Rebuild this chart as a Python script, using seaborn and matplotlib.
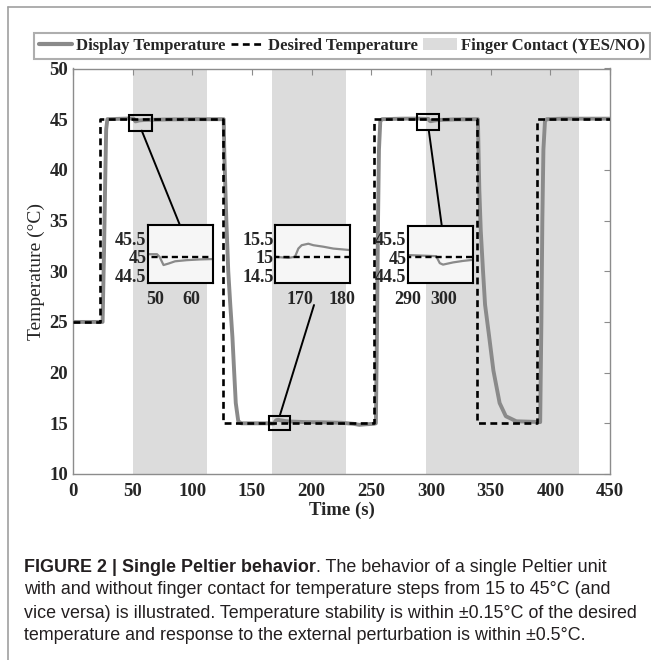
import matplotlib
matplotlib.use('Agg')
import matplotlib.pyplot as plt
import seaborn as sns
import pandas as pd
from matplotlib.patches import Rectangle, ConnectionPatch, Patch
from matplotlib.lines import Line2D

# ---------------- data ----------------
contact_start = [50, 167, 296]
contact_end = [112, 229, 424]

desired_t = [0, 23, 125.5, 252, 338.5, 389, 450]
desired_T = [25, 45, 15, 45, 15, 45, 45]

display_t = [0, 24.8, 26.0, 27.0, 27.8, 28.8, 48, 50.5, 51.2, 52.3, 53.7, 55.5, 58.7,
             62.4, 66, 80, 100, 115, 126.3, 126.8, 128.5, 130.1, 131.8, 133.6, 135.0,
             136.4, 138.5, 141, 150, 164, 167.2, 168.8, 169.6, 170.4, 172, 173.2, 175.6,
             178, 182, 195, 210, 225, 235, 240, 245, 252, 253.8, 254.8, 255.6, 256.4,
             257.5, 259, 275, 290, 297.8, 298.8, 299.7, 302.5, 305.2, 308, 320, 339.3,
             339.8, 340.5, 341.7, 343.6, 345.3, 348.8, 352.3, 357.5, 362.7, 371.5, 385,
             391.5, 392.5, 393.3, 394.2, 395.5, 397, 410, 430, 450]
display_T = [25, 25, 32, 39, 44, 45, 45.07, 45.07, 45.0, 44.78, 44.82, 44.88, 44.91,
             44.93, 44.94, 44.98, 45.0, 45.0, 45.0, 41.6, 35, 30, 26.7, 23.5, 20.2,
             17, 15.2, 15.0, 15.0, 15.0, 14.97, 15.0, 15.22, 15.31, 15.35, 15.31, 15.27,
             15.22, 15.18, 15.12, 15.1, 15.05, 14.95, 14.85, 14.9, 14.95, 15.0, 25, 35, 42,
             44.8, 45, 45.05, 45.06, 45.03, 44.84, 44.8, 44.86, 44.9, 44.93, 44.98, 45,
             42, 38, 34, 30, 26.7, 23.5, 20.2, 17, 15.7, 15.2, 15.15,
             15.12, 25, 35, 42, 44.8, 45, 45.05, 45.05, 45.05]

x_ticks = [0, 50, 100, 150, 200, 250, 300, 350, 400, 450]
y_ticks = [10, 15, 20, 25, 30, 35, 40, 45, 50]

inset_xlims = [(48, 66), (164, 182), (290, 308)]
inset_ylims = [(44.3, 45.85), (14.3, 15.85), (44.3, 45.85)]
inset_xticks = [[50, 60], [170, 180], [290, 300]]
inset_yticks = [[44.5, 45, 45.5], [14.5, 15, 15.5], [44.5, 45, 45.5]]
inset_yticklabels = [['44.5', '45', '45.5'], ['14.5', '15', '15.5'], ['44.5', '45', '45.5']]
# zoom rectangles on the main chart: (t0, T0, width_s, height_C)
zoom_boxes = [(47.2, 43.87, 19.0, 1.52), (164.1, 14.32, 18.1, 1.44), (288.6, 43.94, 18.4, 1.55)]

legend_labels = ['Display Temperature', 'Desired Temperature', 'Finger Contact (YES/NO)']

caption_bold = 'FIGURE 2 | Single Peltier behavior'
caption_lines = ['. The behavior of a single Peltier unit',
                 'with and without finger contact for temperature steps from 15 to 45\u00b0C (and',
                 'vice versa) is illustrated. Temperature stability is within \u00b10.15\u00b0C of the desired',
                 'temperature and response to the external perturbation is within \u00b10.5\u00b0C.']

# ---------------- style ----------------
sns.set_style('white')
plt.rcParams['font.family'] = ['Liberation Serif', 'DejaVu Serif']
plt.rcParams['font.weight'] = 'bold'

GRAY = '#8a8a8a'
SHADE = '#dcdcdc'
SPINE = '#8c8c8c'
DASH = (2.6, 1.7)

W, H = 651, 660
fig = plt.figure(figsize=(W / 100, H / 100), dpi=100)

df_disp = pd.DataFrame({'t': display_t, 'T': display_T})
df_des = pd.DataFrame({'t': desired_t, 'T': desired_T})


def px(x0, y0, x1, y1):
    return [x0 / W, 1 - y1 / H, (x1 - x0) / W, (y1 - y0) / H]


ax = fig.add_axes(px(73, 68.5, 610, 474))
for s, e in zip(contact_start, contact_end):
    ax.axvspan(s, e, color=SHADE, lw=0, zorder=0)
sns.lineplot(data=df_disp, x='t', y='T', ax=ax, color=GRAY, lw=2.8, estimator=None,
             sort=False, zorder=3)
sns.lineplot(data=df_des, x='t', y='T', ax=ax, color='black', lw=1.9, estimator=None,
             drawstyle='steps-post', zorder=4)
ax.lines[-1].set_dashes(DASH)
ax.set_xlim(0, 450)
ax.set_ylim(10, 50)
ax.set_xticks(x_ticks)
ax.set_yticks(y_ticks)
ax.tick_params(direction='in', length=4, color=SPINE, top=True, right=True,
               labelsize=13.5)
ax.tick_params(axis='x', pad=6.5)
ax.tick_params(axis='y', pad=3.5)
for sp in ax.spines.values():
    sp.set_color(SPINE)
    sp.set_linewidth(1.0)
ax.set_xlabel('Time (s)', fontsize=13.5, fontweight='bold', labelpad=1.5)
ax.set_ylabel('Temperature (\u00b0C)', fontsize=14, fontweight='normal', labelpad=3)

for (t0, T0, wd, ht) in zoom_boxes:
    ax.add_patch(Rectangle((t0, T0), wd, ht, fill=False, ec='black', lw=1.5, zorder=6))

inset_px = [(148, 225, 213, 283), (275, 225, 350, 283), (408, 226, 473, 283)]
insets = []
for i, box in enumerate(inset_px):
    ia = fig.add_axes(px(*box))
    ia.set_facecolor('#f6f6f6')
    sns.lineplot(data=df_disp, x='t', y='T', ax=ia, color=GRAY, lw=1.6, estimator=None,
                 sort=False)
    sns.lineplot(data=df_des, x='t', y='T', ax=ia, color='black', lw=1.7, estimator=None,
                 drawstyle='steps-post')
    ia.lines[-1].set_dashes(DASH)
    ia.set_xlim(*inset_xlims[i])
    ia.set_ylim(*inset_ylims[i])
    ia.set_xticks(inset_xticks[i])
    ia.set_yticks(inset_yticks[i])
    ia.set_yticklabels(inset_yticklabels[i])
    ia.tick_params(length=0, labelsize=13)
    ia.tick_params(axis='x', pad=6)
    ia.tick_params(axis='y', pad=1)
    ia.set_xlabel('')
    ia.set_ylabel('')
    for sp in ia.spines.values():
        sp.set_color('black')
        sp.set_linewidth(1.5)
    insets.append(ia)

# connector lines
conn = [((57.6, 43.87), (0.49, 1.0)), ((173.3, 15.76), (0.52, -0.38)), ((298.1, 43.94), (0.52, 1.0))]
for i, (pa, pb) in enumerate(conn):
    cp = ConnectionPatch(xyA=pa, coordsA=ax.transData, xyB=pb, coordsB=insets[i].transAxes,
                         color='black', lw=1.4, zorder=7)
    fig.add_artist(cp)

# legend
handles = [Line2D([], [], color=GRAY, lw=3),
           Line2D([], [], color='black', lw=1.9, dashes=DASH),
           Patch(facecolor=SHADE, edgecolor='none')]
leg = fig.legend(handles, legend_labels, loc='center', bbox_to_anchor=(342 / W, 1 - 46 / H),
                 ncol=3, frameon=True, fancybox=False, edgecolor='#9a9a9a', fontsize=12,
                 handlelength=2.0, handletextpad=0.25, columnspacing=0.3, borderpad=0.3,
                 borderaxespad=0)
leg.get_frame().set_linewidth(1.5)

# panel frame
fig.add_artist(Line2D([8 / W, 8 / W], [0, 1 - 7 / H], transform=fig.transFigure,
                      color='#a0a0a0', lw=1.2))
fig.add_artist(Line2D([8 / W, 1], [1 - 7 / H, 1 - 7 / H], transform=fig.transFigure,
                      color='#a0a0a0', lw=1.2))

# caption
cap_font = dict(family=['Liberation Sans', 'DejaVu Sans'], size=12.9, color='#231f20')
ys = [567.5, 590, 613, 635.5]
tb = fig.text(24 / W, 1 - ys[0] / H, caption_bold, va='center', ha='left',
              fontweight='bold', **cap_font)
fig.canvas.draw()
bb = tb.get_window_extent(renderer=fig.canvas.get_renderer())
fig.text(bb.x1 / W, 1 - ys[0] / H, caption_lines[0], va='center', ha='left',
         fontweight='normal', **cap_font)
for y, line in zip(ys[1:], caption_lines[1:]):
    fig.text(24 / W, 1 - y / H, line, va='center', ha='left', fontweight='normal', **cap_font)

fig.savefig('out.png', dpi=100)
